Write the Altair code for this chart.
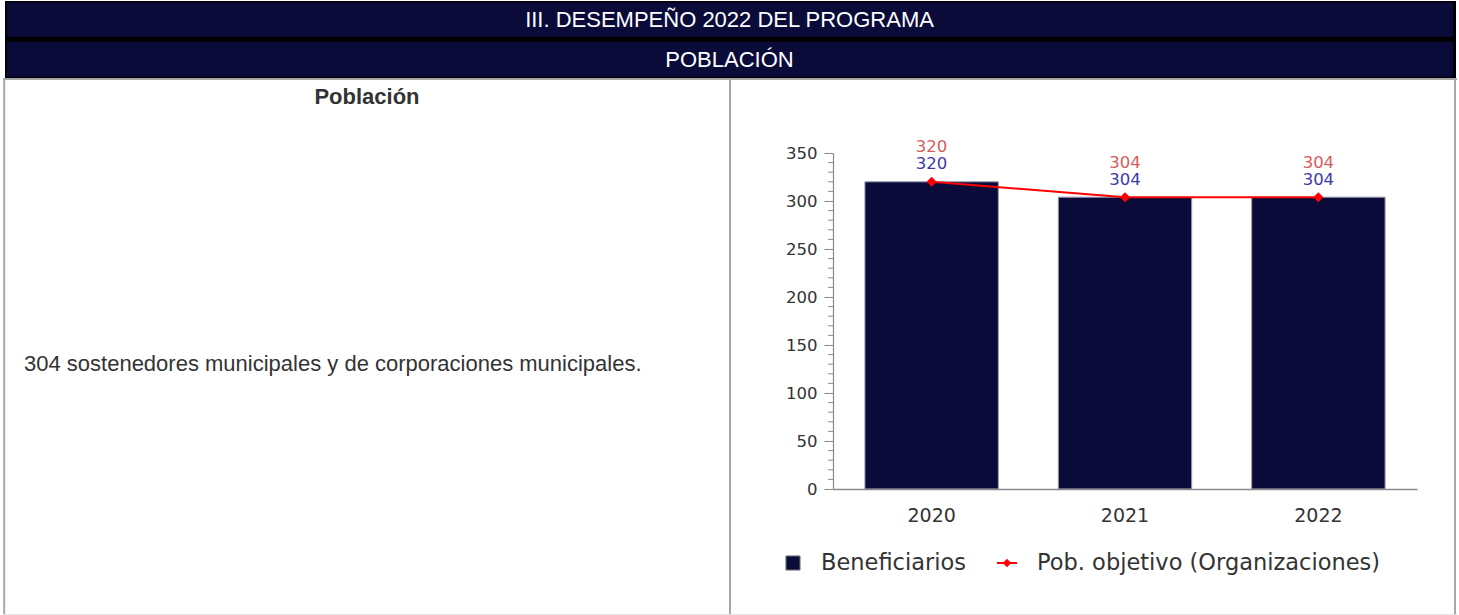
import altair as alt
import pandas as pd

# ---------------- data ----------------
YEARS = ["2020", "2021", "2022"]
BENEFICIARIOS = [320, 304, 304]
POB_OBJETIVO = [320, 304, 304]
SERIES = ["Beneficiarios", "Pob. objetivo (Organizaciones)"]
Y_TICKS = [0, 50, 100, 150, 200, 250, 300, 350]
Y_MINOR = [10, 20, 30, 40, 60, 70, 80, 90, 110, 120, 130, 140, 160, 170, 180, 190,
           210, 220, 230, 240, 260, 270, 280, 290, 310, 320, 330, 340]
HEADER_1 = "III. DESEMPEÑO 2022 DEL PROGRAMA"
HEADER_2 = "POBLACIÓN"
CELL_TITLE = "Población"
CELL_TEXT = "304 sostenedores municipales y de corporaciones municipales."

# ---------------- style / layout ----------------
NAVY = "#0b0b3a"
RED = "#ff0000"
LBL_RED = "#d65c5c"
LBL_BLUE = "#3a3aa6"
GRID_GRAY = "#a8a8a8"
AXIS_GRAY = "#8a8a8a"
TXT = "#333333"
SANS = "Liberation Sans"
CHART_FONT = "DejaVu Sans"

PAGE_W, PAGE_H = 1459, 615
OX, OY = 833, 153          # plot-area origin on the page
W, H = 584, 336            # plot-area size


def px(x):
    return x - OX


def py(y):
    return y - OY


df = pd.DataFrame({"year": YEARS, "ben": BENEFICIARIOS, "pob": POB_OBJETIVO})
minor_df = pd.DataFrame({"v": Y_MINOR})
one = pd.DataFrame({"k": [0]})

y_scale = alt.Scale(domain=[0, 350], nice=False, zero=True)
y_axis = alt.Axis(values=Y_TICKS, title=None, grid=False, tickSize=9,
                  tickColor=AXIS_GRAY, domainColor=AXIS_GRAY, domainWidth=1.2,
                  labelFont=CHART_FONT, labelFontSize=16.5, labelColor=TXT,
                  labelPadding=7, labelOverlap=False, labelFlush=False, zindex=1)
x_axis = alt.Axis(title=None, ticks=False, tickSize=0, labelAngle=0,
                  domainColor=AXIS_GRAY, domainWidth=1.5,
                  labelFont=CHART_FONT, labelFontSize=19, labelColor=TXT,
                  labelPadding=17, zindex=1)
x_enc = alt.X("year:N", sort=YEARS,
              scale=alt.Scale(paddingInner=0, paddingOuter=0.01), axis=x_axis)


def yq(field):
    return alt.Y(f"{field}:Q", scale=y_scale, axis=y_axis)


# ---------------- page decorations ----------------
def rect(x1, x2, y1, y2, color):
    return alt.Chart(one).mark_rect(color=color).encode(
        x=alt.value(px(x1)), x2=alt.value(px(x2)),
        y=alt.value(py(y1)), y2=alt.value(py(y2)))


def hline(x1, x2, y, color, w):
    return alt.Chart(one).mark_rule(color=color, strokeWidth=w).encode(
        x=alt.value(px(x1)), x2=alt.value(px(x2)), y=alt.value(py(y)))


def vline(x, y1, y2, color, w):
    return alt.Chart(one).mark_rule(color=color, strokeWidth=w).encode(
        x=alt.value(px(x)), y=alt.value(py(y1)), y2=alt.value(py(y2)))


def text(s, x, y, size, color, weight="normal", align="center", font=SANS):
    return alt.Chart(one).mark_text(
        text=s, font=font, fontSize=size, color=color, fontWeight=weight,
        align=align, baseline="middle").encode(x=alt.value(px(x)), y=alt.value(py(y)))


decor = [
    rect(5, 1456, 1, 78, "#000000"),
    rect(7, 1453, 2.5, 36.7, NAVY),
    rect(7, 1453, 41.7, 76.7, NAVY),
    hline(3, 1457, 79, GRID_GRAY, 2),
    vline(4.2, 78, 615, GRID_GRAY, 2),
    vline(730, 78, 615, GRID_GRAY, 2),
    vline(1455, 78, 615, GRID_GRAY, 2),
    hline(3, 1457, 614.5, "#e4e4e4", 1),
    text(HEADER_1, 729.5, 20, 22, "#ffffff"),
    text(HEADER_2, 729.5, 60, 22, "#ffffff"),
    text(CELL_TITLE, 367, 97, 22, TXT, weight="bold"),
    text(CELL_TEXT, 24, 364, 22, TXT, align="left"),
]

# ---------------- chart ----------------
bars = alt.Chart(df).mark_bar(
    color=NAVY, stroke="#9c9cb4", strokeWidth=1,
    width=alt.RelativeBandSize(0.69)).encode(x=x_enc, y=yq("ben"))

minor = alt.Chart(minor_df).mark_rule(color=AXIS_GRAY, strokeWidth=1).encode(
    y=yq("v"), x=alt.value(-5), x2=alt.value(0))

line = alt.Chart(df).mark_line(color=RED, strokeWidth=2).encode(x=x_enc, y=yq("pob"))
pts = alt.Chart(df).mark_point(shape="diamond", filled=True, color=RED, size=100,
                               opacity=1).encode(x=x_enc, y=yq("pob"))

lbl_b = alt.Chart(df).mark_text(font=CHART_FONT, fontSize=16.5, color=LBL_BLUE,
                                dy=-17.5, baseline="middle").encode(
    x=x_enc, y=yq("ben"), text="ben:Q")
lbl_p = alt.Chart(df).mark_text(font=CHART_FONT, fontSize=16.5, color=LBL_RED,
                                dy=-34.5, baseline="middle").encode(
    x=x_enc, y=yq("pob"), text="pob:Q")

# ---------------- legend ----------------
LEG_Y = 563
legend = [
    alt.Chart(one).mark_square(size=200, fill=NAVY, stroke="#808080", strokeWidth=1,
                               opacity=1).encode(x=alt.value(px(793)), y=alt.value(py(LEG_Y))),
    text(SERIES[0], 821, LEG_Y, 22.5, TXT, align="left", font=CHART_FONT),
    hline(997, 1017, LEG_Y, RED, 2),
    alt.Chart(one).mark_point(shape="diamond", filled=True, color=RED, size=70,
                              opacity=1).encode(x=alt.value(px(1007)), y=alt.value(py(LEG_Y))),
    text(SERIES[1], 1037, LEG_Y, 22.5, TXT, align="left", font=CHART_FONT),
]

chart = alt.layer(*decor, bars, minor, line, pts, lbl_b, lbl_p, *legend).properties(
    width=W, height=H,
    padding={"left": OX, "top": OY, "right": PAGE_W - OX - W, "bottom": PAGE_H - OY - H},
    autosize=alt.AutoSizeParams(type="none"),
    background="white",
).configure_view(stroke=None)

chart.save("out.html", embed_options={"renderer": "svg", "actions": False})
